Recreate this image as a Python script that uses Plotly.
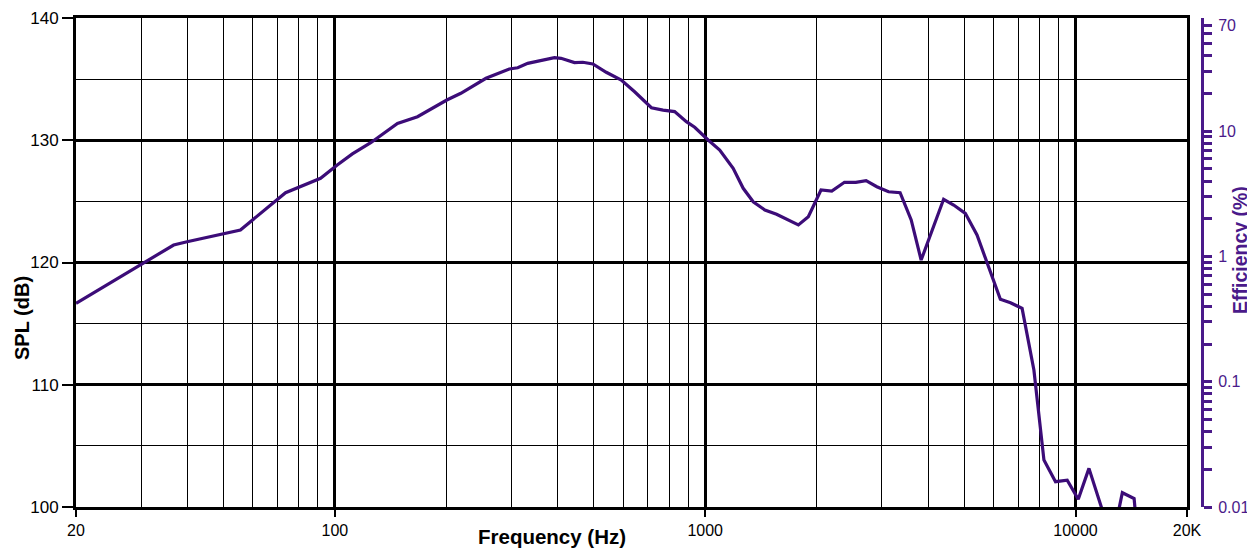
import plotly.graph_objects as go

# Frequency response data
freq_hz = [20, 36.7, 39.9, 55.6, 73.6, 80.8, 91.5, 101.5, 111.5, 125, 147.6, 167.2,
           200.6, 218.9, 255.9, 295.8, 311.7, 331.7, 360.4, 391.6, 408, 443.7, 467.4,
           497.4, 540.5, 593.5, 644.9, 715.8, 769.5, 827, 889.6, 936.8, 1018.6, 1094.6,
           1190, 1266.6, 1348, 1449.6, 1558.6, 1785, 1899, 2054.6, 2196.9, 2377.1,
           2550.9, 2719.7, 2907.3, 3126.5, 3360, 3600, 3830, 4404, 4688, 5040, 5420,
           5770, 6267, 6673, 7174, 7720, 8218, 8831, 9497, 10172, 10871, 12570,
           13380, 14395, 14966]
spl_db = [116.66, 121.43, 121.7, 122.66, 125.71, 126.2, 126.89, 127.98, 128.88, 129.8,
          131.38, 131.93, 133.29, 133.84, 135.07, 135.83, 135.93, 136.29, 136.51, 136.75,
          136.7, 136.35, 136.38, 136.24, 135.56, 134.93, 133.97, 132.66, 132.47, 132.34,
          131.52, 131.06, 130.02, 129.2, 127.7, 126.07, 124.97, 124.29, 123.94, 123.07,
          123.75, 125.93, 125.85, 126.56, 126.56, 126.69, 126.2, 125.79, 125.71, 123.48,
          120.2, 125.17, 124.7, 124.02, 122.25, 119.93, 116.99, 116.71, 116.25, 111.21,
          103.84, 102.07, 102.2, 100.63, 103.16, 97.2, 101.17, 100.7, 95.0]

x_tick_vals = [20, 100, 1000, 10000, 20000]
x_tick_text = ["20", "100", "1000", "10000", "20K"]
x_minor_vals = [30, 40, 50, 60, 70, 80, 90,
                200, 300, 400, 500, 600, 700, 800, 900,
                2000, 3000, 4000, 5000, 6000, 7000, 8000, 9000]
spl_ticks = [100, 110, 120, 130, 140]

eff_major = [0.01, 0.1, 1, 10, 70]
eff_labels = ["0.01", "0.1", "1", "10", "70"]
eff_tickvals = ([k * 0.01 for k in range(1, 10)] + [k * 0.1 for k in range(1, 10)] +
                [k * 1.0 for k in range(1, 10)] + [k * 10.0 for k in range(1, 8)])

LINE = "#3c0c78"
PURPLE = "#4a1a8a"
FONT = "Liberation Sans, Arial, sans-serif"

eff_text = []
for v in eff_tickvals:
    lab = ""
    for m, t in zip(eff_major, eff_labels):
        if abs(v - m) < 1e-9 * max(1, m):
            lab = t
    eff_text.append(lab)

fig = go.Figure()
fig.add_trace(go.Scatter(x=freq_hz, y=spl_db, mode="lines",
                         line=dict(color=LINE, width=3.2), showlegend=False,
                         hoverinfo="x+y"))
# empty trace to bind the efficiency axis
fig.add_trace(go.Scatter(x=[], y=[], yaxis="y2", showlegend=False, hoverinfo="skip"))

# the page body adds an 8px offset; compensate so the plot lands where the reference has it
OFF = 8
W, H = 1255 - OFF, 548 - OFF
l, t = 76 - OFF, 18 - OFF
b = H - (507 - OFF)
r = W - (1202 - OFF)
plot_right = 1187 - OFF
PW = W - l - r
PH = H - t - b
dom_end = (plot_right - l) / PW


def px_x(x):
    return (x - OFF - l) / PW


def px_y(y):
    return ((H - b) - (y - OFF)) / PH


fig.update_layout(
    width=W, height=H,
    margin=dict(l=l, r=r, t=t, b=b, autoexpand=False),
    paper_bgcolor="white", plot_bgcolor="white",
    font=dict(family=FONT, size=16, color="black"),
    xaxis=dict(
        type="log", domain=[0, dom_end], automargin=False,
        range=[1.30103, 4.30103],
        tickvals=x_tick_vals, ticktext=x_tick_text,
        ticks="outside", ticklen=7, tickwidth=1.5, tickcolor="black",
        showgrid=True, gridcolor="black", gridwidth=2.5,
        showline=True, linecolor="black", linewidth=3, mirror=True,
        minor=dict(tickvals=x_minor_vals, showgrid=True, gridcolor="black",
                   gridwidth=1, ticks=""),
        tickfont=dict(size=16),
        zeroline=False,
    ),
    yaxis=dict(
        range=[100, 140], tickvals=spl_ticks, automargin=False,
        ticks="outside", ticklen=11, tickwidth=1.5, tickcolor="black",
        showgrid=True, gridcolor="black", gridwidth=2.5,
        showline=True, linecolor="black", linewidth=3, mirror=True,
        minor=dict(dtick=5, showgrid=True, gridcolor="black", gridwidth=1, ticks=""),
        tickfont=dict(size=17),
        zeroline=False,
    ),
    yaxis2=dict(
        type="log", overlaying="y", side="right", anchor="free", position=1.0,
        automargin=False,
        range=[-2, 1.90309],
        tickvals=eff_tickvals, ticktext=eff_text,
        ticks="outside", ticklen=8, tickwidth=2.5, tickcolor=PURPLE,
        ticklabelstandoff=3,
        showline=True, linecolor=PURPLE, linewidth=3,
        showgrid=False, zeroline=False,
        tickfont=dict(size=16, color=PURPLE),
    ),
    annotations=[
        dict(text="<b>Frequency (Hz)</b>", xref="paper", yref="paper",
             x=px_x(552), y=px_y(536),
             xanchor="center", yanchor="middle", showarrow=False,
             font=dict(size=20.5, color="black", family=FONT)),
        dict(text="<b>SPL (dB)</b>", xref="paper", yref="paper",
             x=px_x(22), y=px_y(318),
             xanchor="center", yanchor="middle", showarrow=False, textangle=-90,
             font=dict(size=20, color="black", family=FONT)),
        dict(text="<b>Efficiency (%)</b>", xref="paper", yref="paper",
             x=px_x(1240), y=px_y(250),
             xanchor="center", yanchor="middle", showarrow=False, textangle=-90,
             font=dict(size=19.5, color=PURPLE, family=FONT)),
    ],
)

fig.write_html("out.html")
